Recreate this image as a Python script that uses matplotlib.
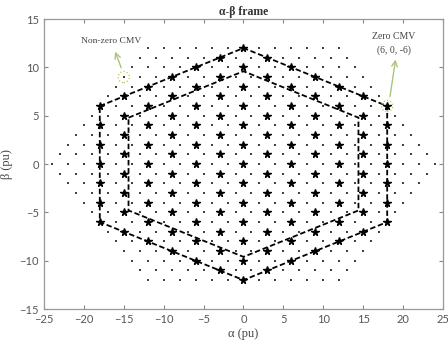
import matplotlib
matplotlib.use("Agg")
import matplotlib.pyplot as plt
from matplotlib.patches import Ellipse

# phase voltage levels of the converter (pu)
levels = [-6, -5, -4, -3, -2, -1, 0, 1, 2, 3, 4, 5, 6]

outer_hex_alpha = [-18, 0, 18, 18, 0, -18, -18]
outer_hex_beta = [6, 12, 6, -6, -12, -6, 6]
inner_hex_alpha = [-14.4, 0, 14.4, 14.4, 0, -14.4, -14.4]
inner_hex_beta = [4.8, 9.6, 4.8, -4.8, -9.6, -4.8, 4.8]

# highlighted vectors
nonzero_cmv = (-15, 9)
zero_cmv = (18, 6)

# all switching states -> alpha/beta, zero CMV ones get a star
dots = set()
stars = set()
for a in levels:
    for b in levels:
        for c in levels:
            p = (2 * a - b - c, b - c)
            dots.add(p)
            if a + b + c == 0:
                stars.add(p)
dots = sorted(dots - stars)
stars = sorted(stars)

serif = "Liberation Serif"

fig = plt.figure(figsize=(4.48, 3.40), dpi=100)
ax = fig.add_axes([0.098, 0.091, 0.891, 0.853])

ax.scatter([p[0] for p in dots], [p[1] for p in dots], marker="s", s=2.6,
           color="#404040", linewidths=0, zorder=2)
ax.plot([p[0] for p in stars], [p[1] for p in stars], "*", color="black",
        markersize=5.3, linestyle="none", zorder=3)

ax.plot(outer_hex_alpha, outer_hex_beta, "--", color="black", lw=1.3,
        dashes=(3, 1.5), zorder=4)
ax.plot(inner_hex_alpha, inner_hex_beta, "--", color="black", lw=1.3,
        dashes=(3, 1.5), zorder=4)

for pt in (nonzero_cmv, zero_cmv):
    ax.add_patch(Ellipse(pt, 1.4, 1.15, fill=False, edgecolor="#c9c25a",
                         lw=0.9, linestyle=":", zorder=5))

arrow = dict(arrowstyle="->", color="#a9c47f", lw=1.0)
ax.annotate("", xy=(-16.2, 11.9), xytext=(-15.2, 9.7), arrowprops=arrow)
ax.text(-16.6, 12.7, "Non-zero CMV", family=serif, fontsize=6.8,
        color="#444444", ha="center", va="center")
ax.annotate("", xy=(19.1, 11.1), xytext=(18.3, 6.7), arrowprops=arrow)
ax.text(18.8, 13.2, "Zero CMV", family=serif, fontsize=7,
        color="#444444", ha="center", va="center")
ax.text(18.8, 11.8, "(6, 0, -6)", family=serif, fontsize=7,
        color="#444444", ha="center", va="center")

ax.set_xlim(-25, 25)
ax.set_ylim(-15, 15)
ax.set_xticks(range(-25, 26, 5))
ax.set_yticks(range(-15, 16, 5))
ax.tick_params(direction="in", top=True, right=True, length=3, width=0.8,
               colors="#888888", labelcolor="#555555", labelsize=8)
for lab in ax.get_xticklabels() + ax.get_yticklabels():
    lab.set_family("Lato")
for s in ax.spines.values():
    s.set_color("#999999")
    s.set_linewidth(0.9)

ax.set_title("\u03b1-\u03b2 frame", family=serif, fontweight="bold",
             fontsize=8.5, color="#333333", pad=3)
ax.set_xlabel("\u03b1 (pu)", family=serif, fontsize=9, color="#444444", labelpad=2)
ax.set_ylabel("\u03b2 (pu)", family=serif, fontsize=9, color="#444444", labelpad=5)

fig.savefig("out.png", dpi=100)
